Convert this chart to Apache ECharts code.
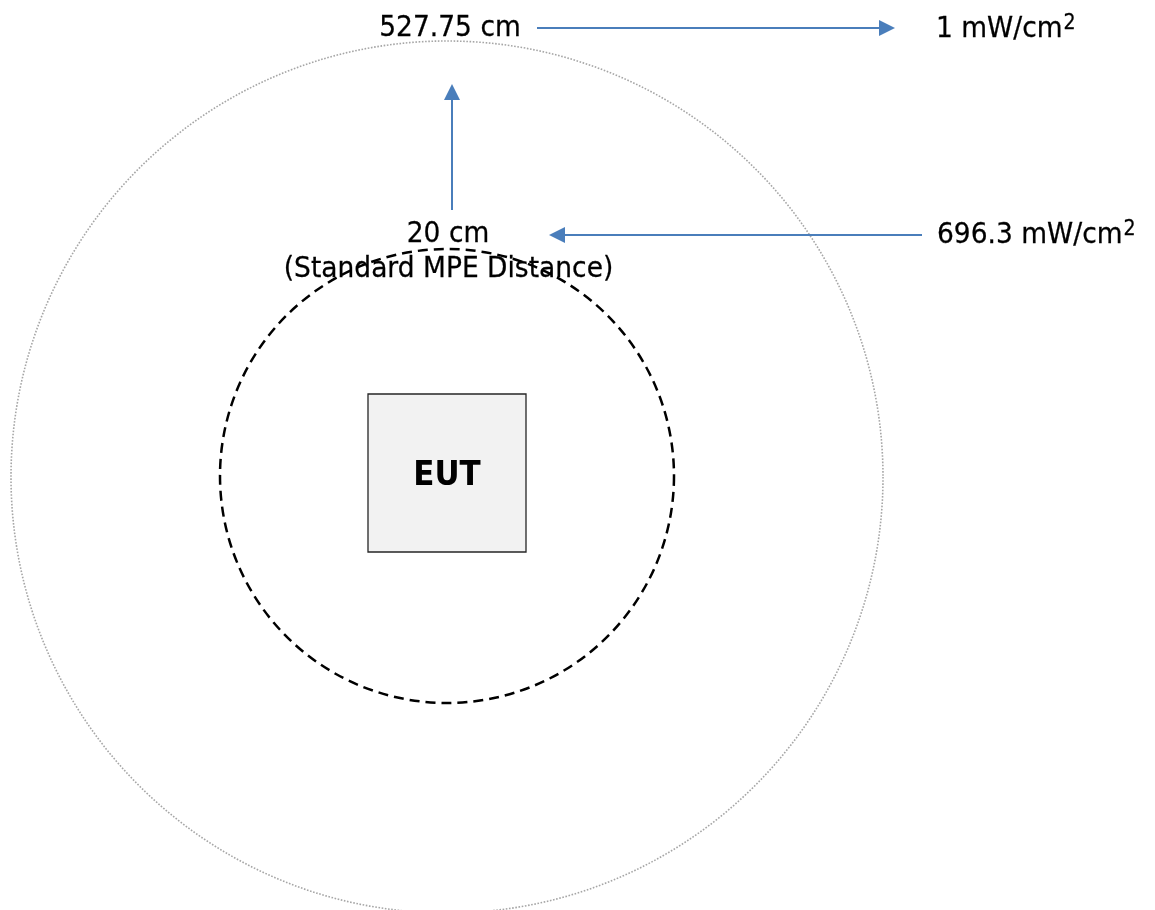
<!DOCTYPE html>
<html>
<head>
<meta charset="utf-8">
<script src="https://cdn.jsdelivr.net/npm/echarts@6/dist/echarts.min.js"></script>
<style>html,body{margin:0;padding:0;background:#fff}#c{width:1155px;height:910px}</style>
</head>
<body>
<div id="c"></div>
<script>
// Diagram geometry in diagram units (1 unit = 1 px of the 1155x910 canvas)
const circleCenters = [[447, 477], [447, 476]];        // outer (527.75 cm), inner (20 cm)
const circleRadii = [436, 227];
const circleKinds = ['outer', 'inner'];
const eutCorners = [[368, 394], [526, 552]];
const arrowStarts = [[537, 28], [452, 210], [922, 235]];
const arrowEnds = [[895, 28], [452, 84], [549, 235]];
const labelTexts = ['527.75 cm', '20 cm', '(Standard MPE Distance)'];
const labelPoints = [[450, 28.5], [448, 234.5], [448.5, 270]];
const densityValues = ['1', '696.3'];
const densityUnit = 'mW/cm';
const densityPoints = [[936, 29.5], [937, 235.5]];
const boxLabel = 'EUT';

const FONT = '"DejaVu Sans", Verdana, sans-serif';
const FS = 26.5;
const SY = 1.08;
const BLUE = '#4a7ebb';

const measureCtx = document.createElement('canvas').getContext('2d');
function textWidth(str, font) { measureCtx.font = font; return measureCtx.measureText(str).width; }

const chart = echarts.init(document.getElementById('c'), null, {renderer: 'canvas'});

const circleData = circleCenters.map((c, i) => [c[0], c[1], circleRadii[i], i]);
const arrowData = arrowStarts.map((s, i) => [s[0], s[1], arrowEnds[i][0], arrowEnds[i][1]]);
const labelData = labelPoints.map((p, i) => [p[0], p[1], i]);
const densityData = densityPoints.map((p, i) => [p[0], p[1], i]);

const textStroke = {stroke: '#000', lineWidth: 0.25};

chart.setOption({
  animation: false,
  backgroundColor: '#fff',
  grid: {left: 0, right: 0, top: 0, bottom: 0},
  xAxis: {type: 'value', min: 0, max: 1155, show: false},
  yAxis: {type: 'value', min: 0, max: 910, inverse: true, show: false},
  series: [
    {
      type: 'custom', name: 'circles', data: circleData, clip: false,
      renderItem: function (params, api) {
        const c = api.coord([api.value(0), api.value(1)]);
        const r = api.size([api.value(2), 0])[0];
        const kind = circleKinds[api.value(3)];
        return {
          type: 'circle',
          shape: {cx: c[0], cy: c[1], r: r},
          style: kind === 'outer'
            ? {fill: null, stroke: '#a6a6a6', lineWidth: 1.6, lineDash: [1.6, 1.6]}
            : {fill: null, stroke: '#000', lineWidth: 2.5, lineDash: [10, 6]}
        };
      }
    },
    {
      type: 'custom', name: 'eut', data: [[eutCorners[0][0], eutCorners[0][1], eutCorners[1][0], eutCorners[1][1]]], clip: false,
      z: 3,
      renderItem: function (params, api) {
        const a = api.coord([api.value(0), api.value(1)]);
        const b = api.coord([api.value(2), api.value(3)]);
        return {
          type: 'group',
          children: [
            {type: 'rect', shape: {x: a[0], y: a[1], width: b[0] - a[0], height: b[1] - a[1]},
              style: {fill: '#f2f2f2', stroke: '#262626', lineWidth: 1.3}},
            {type: 'text', x: (a[0] + b[0]) / 2, y: (a[1] + b[1]) / 2 + 3, scaleY: 1.06,
              style: {x: 0, y: 0, text: boxLabel,
              fill: '#000', font: 'bold 31px ' + FONT, align: 'center', verticalAlign: 'middle'}}
          ]
        };
      }
    },
    {
      type: 'custom', name: 'arrows', data: arrowData, clip: false, z: 4,
      renderItem: function (params, api) {
        const s = api.coord([api.value(0), api.value(1)]);
        const e = api.coord([api.value(2), api.value(3)]);
        const dx = e[0] - s[0], dy = e[1] - s[1];
        const len = Math.sqrt(dx * dx + dy * dy);
        const ux = dx / len, uy = dy / len;
        const hl = 16, hw = 8;
        const bx = e[0] - ux * hl, by = e[1] - uy * hl;
        return {
          type: 'group',
          children: [
            {type: 'line', shape: {x1: s[0], y1: s[1], x2: bx + ux, y2: by + uy},
              style: {stroke: BLUE, lineWidth: 2}},
            {type: 'polygon', shape: {points: [[e[0], e[1]], [bx - uy * hw, by + ux * hw], [bx + uy * hw, by - ux * hw]]},
              style: {fill: BLUE}}
          ]
        };
      }
    },
    {
      type: 'custom', name: 'labels', data: labelData, clip: false, z: 5,
      renderItem: function (params, api) {
        const p = api.coord([api.value(0), api.value(1)]);
        return {type: 'text', x: p[0], y: p[1], scaleY: SY,
          style: Object.assign({x: 0, y: 0, text: labelTexts[api.value(2)],
          fill: '#000', font: FS + 'px ' + FONT, align: 'center', verticalAlign: 'middle'}, textStroke)};
      }
    },
    {
      type: 'custom', name: 'densities', data: densityData, clip: false, z: 5,
      renderItem: function (params, api) {
        const p = api.coord([api.value(0), api.value(1)]);
        const main = densityValues[api.value(2)] + ' ' + densityUnit;
        const mainFont = FS + 'px ' + FONT;
        const w = textWidth(main, mainFont);
        return {
          type: 'group',
          children: [
            {type: 'text', x: p[0], y: p[1], scaleY: SY,
              style: Object.assign({x: 0, y: 0, text: main, fill: '#000', font: mainFont, align: 'left', verticalAlign: 'middle'}, textStroke)},
            {type: 'text', x: p[0] + w + 1, y: p[1] - 6, scaleY: SY,
              style: Object.assign({x: 0, y: 0, text: '2', fill: '#000', font: '19px ' + FONT, align: 'left', verticalAlign: 'middle'}, textStroke)}
          ]
        };
      }
    }
  ]
});
</script>
</body>
</html>
